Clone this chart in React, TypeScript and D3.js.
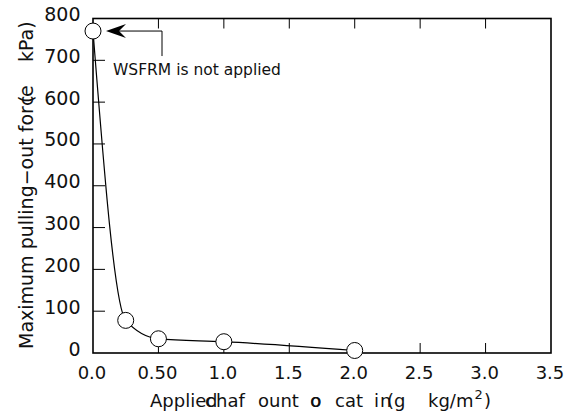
import React from "react";
import * as d3 from "d3";

const xValues = [0.0, 0.25, 0.5, 1.0, 2.0];
const yValues = [770, 78, 34, 27, 6];
const xTicks = [0, 0.5, 1.0, 1.5, 2.0, 2.5, 3.0, 3.5];
const xTickLabels = ["0.0", "0.50", "1.0", "1.5", "2.0", "2.5", "3.0", "3.5"];
const yTicks = [0, 100, 200, 300, 400, 500, 600, 700, 800];
const annotationText = "WSFRM is not applied";
// garbled axis titles as rendered in the reference: [text, offset]
const xTitlePieces: [string, number][] = [
  ["Applie", 0], ["d", 56], ["c", 55], ["haf", 66], ["ount", 108], ["o", 160], ["o", 160.6],
  ["cat", 185], ["i", 224], ["n", 230], ["(", 237], ["g", 244], ["kg/m", 278],
];
const yTitlePieces: [string, number][] = [
  ["Maximum pulling−out for", 0], ["c", 243], ["(", 246], ["e", 252], ["kPa)", 287],
];

const W = 576;
const H = 418;
const left = 93;
const right = 551;
const top = 18.5;
const bottom = 353;
const font = "DejaVu Sans, Verdana, sans-serif";

export default function App() {
  const x = d3.scaleLinear().domain([0, 3.5]).range([left, right]);
  const y = d3.scaleLinear().domain([0, 800]).range([bottom, top]);
  const pts = xValues.map((v, i) => [x(v), y(yValues[i])] as [number, number]);
  const line = d3.line().curve(d3.curveMonotoneX)(pts) || "";
  const ax = x(0);
  const ay = y(yValues[0]);
  const xt0 = 150;
  const yt0 = 349;
  const kgX = xt0 + 278;
  return (
    <svg width={W} height={H} style={{ position: "absolute", left: 0, top: 0 }} fontFamily={font}>
      <rect x={0} y={0} width={W} height={H} fill="#fff" />
      <rect x={left} y={top} width={right - left} height={bottom - top} fill="none" stroke="#000" strokeWidth={1.6} />
      {yTicks.map((t) => (
        <g key={"y" + t}>
          {t > 0 && t < 800 && <line x1={left} x2={left + 12} y1={y(t)} y2={y(t)} stroke="#000" strokeWidth={1} />}
          <text x={80.5} y={y(t) + 2.5} textAnchor="end" fontSize={19} fill="#111">{t}</text>
        </g>
      ))}
      {xTicks.map((t, i) => (
        <g key={"x" + t}>
          {t > 0 && t < 3.5 && (
            <>
              <line x1={x(t)} x2={x(t)} y1={bottom} y2={bottom - 10} stroke="#000" strokeWidth={1} />
              <line x1={x(t)} x2={x(t)} y1={top} y2={top + 10} stroke="#000" strokeWidth={1} />
            </>
          )}
          <text x={x(t) - 1} y={379} textAnchor="middle" fontSize={18} fill="#111">{xTickLabels[i]}</text>
        </g>
      ))}
      <path d={line} fill="none" stroke="#000" strokeWidth={1.2} />
      {pts.map((p, i) => (
        <circle key={i} cx={p[0]} cy={p[1]} r={8} fill="#fff" stroke="#000" strokeWidth={1} />
      ))}
      <polyline points={`${ax + 16},${ay} ${ax + 69},${ay} ${ax + 69},${ay + 25}`} fill="none" stroke="#000" strokeWidth={1} />
      <path d={`M${ax + 13},${ay} L${ax + 33},${ay - 7} L${ax + 26},${ay} L${ax + 33},${ay + 7} Z`} fill="#000" />
      <text x={113} y={75} fontSize={15.5} fill="#111">{annotationText}</text>
      {xTitlePieces.map(([s, o], i) => (
        <text key={"xt" + i} x={xt0 + o} y={407} fontSize={18} fill="#111">{s}</text>
      ))}
      <text x={kgX + 46.5} y={399} fontSize={13} fill="#111">2</text>
      <text x={kgX + 56} y={407} fontSize={18} fill="#111">)</text>
      {yTitlePieces.map(([s, o], i) => (
        <text key={"yt" + i} transform={`translate(33,${yt0 - o}) rotate(-90)`} fontSize={19} fill="#111">{s}</text>
      ))}
    </svg>
  );
}
